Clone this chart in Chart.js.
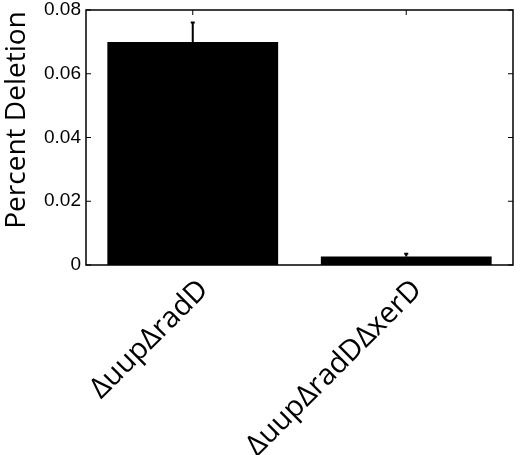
<!DOCTYPE html>
<html>
<head>
<meta charset="utf-8">
<script src="https://cdn.jsdelivr.net/npm/chart.js@4"></script>
<style>
  html, body { margin: 0; padding: 0; background: #fff; }
  canvas { display: block; }
</style>
</head>
<body>
<canvas id="deletionChart" width="520" height="455"></canvas>
<script>
const categories = ['ΔuupΔradD', 'ΔuupΔradDΔxerD'];
const percentDeletion = [0.0700, 0.0027];
const errorUp = [0.0061, 0.0008];
const yTicks = [0, 0.02, 0.04, 0.06, 0.08];
const yTitle = 'Percent Deletion';

// error bars, y title, matlab style box with inward ticks
const boxPlugin = {
  id: 'boxPlugin',
  afterDatasetsDraw(chart) {
    const ctx = chart.ctx;
    const area = chart.chartArea;
    const x = chart.scales.x;
    const y = chart.scales.y;
    ctx.save();
    ctx.strokeStyle = '#000';

    ctx.lineWidth = 2;
    percentDeletion.forEach((v, i) => {
      const px = x.getPixelForValue(i);
      const top = y.getPixelForValue(v + errorUp[i]);
      ctx.beginPath();
      ctx.moveTo(px, y.getPixelForValue(v));
      ctx.lineTo(px, top);
      ctx.moveTo(px - 2, top);
      ctx.lineTo(px + 2, top);
      ctx.stroke();
    });

    ctx.lineWidth = 1.5;
    ctx.strokeRect(area.left, area.top, area.right - area.left, area.bottom - area.top);

    ctx.lineWidth = 1;
    const tl = 5;
    yTicks.forEach(t => {
      const py = y.getPixelForValue(t);
      ctx.beginPath();
      ctx.moveTo(area.left, py);
      ctx.lineTo(area.left + tl, py);
      ctx.moveTo(area.right, py);
      ctx.lineTo(area.right - tl, py);
      ctx.stroke();
    });
    categories.forEach((c, i) => {
      const px = x.getPixelForValue(i);
      ctx.beginPath();
      ctx.moveTo(px, area.top);
      ctx.lineTo(px, area.top + tl);
      ctx.stroke();
    });

    // axis title sits a bit above the plot centre in the original
    ctx.translate(17, 120);
    ctx.rotate(-Math.PI / 2);
    ctx.fillStyle = '#000';
    ctx.font = '28px "Open Sans"';
    ctx.textAlign = 'center';
    ctx.textBaseline = 'middle';
    ctx.fillText(yTitle, 0, 0);
    ctx.restore();
  }
};

const ctx = document.getElementById('deletionChart').getContext('2d');
const deletionChart = new Chart(ctx, {
  type: 'bar',
  data: {
    labels: categories,
    datasets: [{
      data: percentDeletion,
      backgroundColor: '#000',
      borderWidth: 0,
      categoryPercentage: 0.8,
      barPercentage: 1.0
    }]
  },
  options: {
    responsive: false,
    animation: false,
    layout: { padding: { top: 10, right: 7, left: 0, bottom: 0 } },
    plugins: {
      legend: { display: false },
      tooltip: { enabled: false }
    },
    scales: {
      x: {
        grid: { display: false, drawTicks: false },
        border: { display: false },
        ticks: {
          color: '#000',
          maxRotation: 45,
          minRotation: 45,
          padding: 8,
          labelOffset: 11,
          font: { family: 'Open Sans', size: 29 }
        },
        afterFit: scale => {
          scale.height = 190;
          scale.paddingLeft = 0;
          scale.paddingRight = 0;
        }
      },
      y: {
        min: 0,
        max: 0.08,
        grid: { display: false, drawTicks: false },
        border: { display: false },
        afterBuildTicks: scale => { scale.ticks = yTicks.map(v => ({ value: v })); },
        ticks: {
          color: '#000',
          padding: 5,
          font: { family: 'Liberation Sans', size: 19 },
          callback: v => String(+v.toFixed(2))
        },
        afterFit: scale => {
          scale.width = 86;
          scale.paddingTop = 0;
          scale.paddingBottom = 0;
        }
      }
    }
  },
  plugins: [boxPlugin]
});
</script>
</body>
</html>
